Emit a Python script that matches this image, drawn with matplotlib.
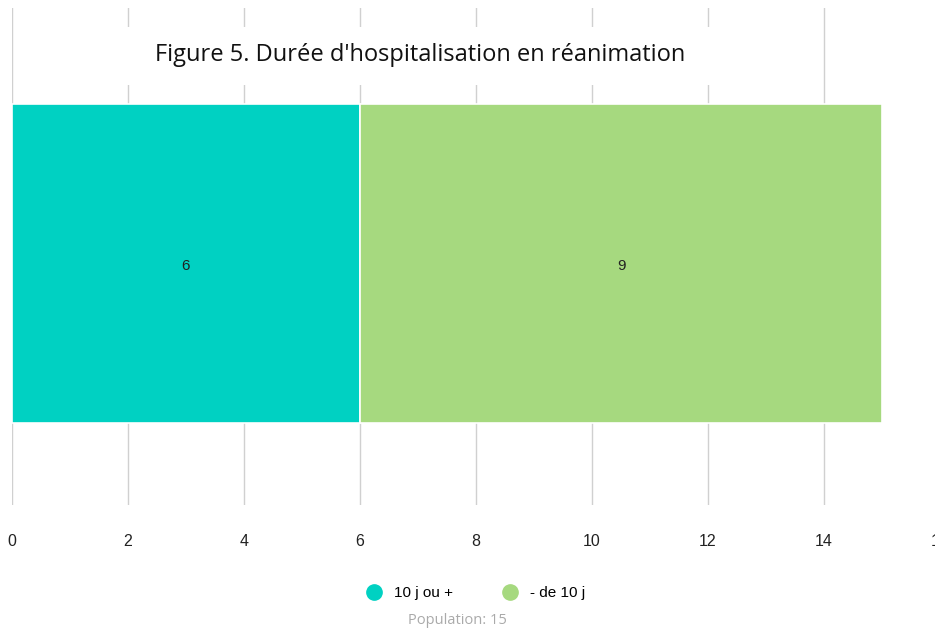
import matplotlib.pyplot as plt
from matplotlib.lines import Line2D
from matplotlib.patches import Rectangle

# data
categories = ['10 j ou +', '- de 10 j']
values = [6, 9]
colors = ['#00D1C2', '#A6D97F']
xticks = [0, 2, 4, 6, 8, 10, 12, 14, 16]
title = "Figure 5. Durée d'hospitalisation en réanimation"
population = 15

W, H = 935, 632
fig = plt.figure(figsize=(W / 100, H / 100), dpi=100)
ax = fig.add_axes([12 / W, 1 - 505 / H, 928 / W, 497 / H])

left = 0
for cat, val, col in zip(categories, values, colors):
    ax.barh(0.486, val, left=left, height=0.642, color=col,
            edgecolor='white', linewidth=1.2, zorder=2, label=cat)
    ax.text(left + val / 2, 0.48, str(val), ha='center', va='center',
            fontsize=11, family='Liberation Sans', color='#222222', zorder=3)
    left += val

ax.set_xlim(0, 16)
ax.set_ylim(0, 1)
ax.set_xticks(xticks)
ax.set_yticks([])
ax.grid(axis='x', color='#d0d0d0', linewidth=1, zorder=0)
ax.tick_params(axis='x', length=0, pad=21, labelsize=11.5)
for lab in ax.get_xticklabels():
    lab.set_family('Liberation Sans')
    lab.set_color('#222222')
for s in ax.spines.values():
    s.set_visible(False)

# white box behind the title
fig.patches.append(Rectangle((122 / W, 1 - 85 / H), 594 / W, 58 / H,
                             transform=fig.transFigure, facecolor='white',
                             edgecolor='none', zorder=1))
fig.text(420 / W, 1 - 55 / H, title, ha='center', va='center',
         fontsize=17, family='Open Sans', color='#111111', zorder=5)

handles = [Line2D([], [], marker='o', linestyle='none', markersize=11,
                  markerfacecolor=c, markeredgecolor=c) for c in colors]
fig.legend(handles, categories, loc='center', ncol=2,
           bbox_to_anchor=(472 / W, 1 - 593 / H), frameon=False,
           handletextpad=0.35, columnspacing=2.7,
           prop={'family': 'Liberation Sans', 'size': 11})
fig.text(457 / W, 1 - 620 / H, 'Population: %d' % population, ha='center',
         va='center', fontsize=10.5, family='Open Sans', color='#aaaaaa')

fig.savefig('out.png', dpi=100)
